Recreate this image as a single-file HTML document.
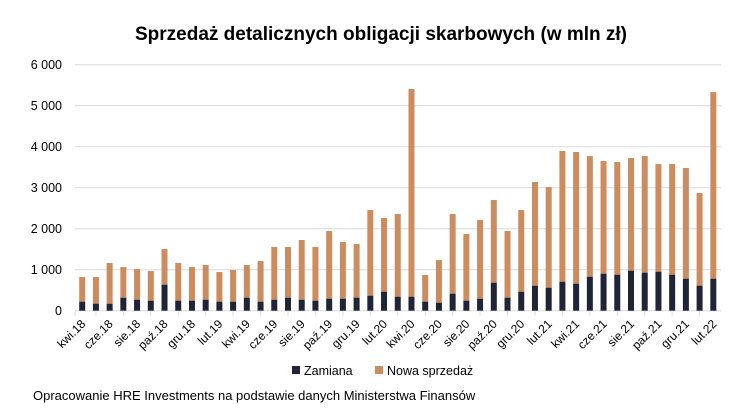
<!DOCTYPE html>
<html><head><meta charset="utf-8"><style>
body{margin:0;background:#fff;width:754px;height:414px;overflow:hidden;font-family:"Liberation Sans","DejaVu Sans",sans-serif}
</style></head><body>
<svg id="c" width="754" height="414" xmlns="http://www.w3.org/2000/svg" font-family="Liberation Sans, DejaVu Sans, sans-serif">
<text x="381" y="40" text-anchor="middle" font-size="19" font-weight="bold" fill="#000">Sprzedaż detalicznych obligacji skarbowych (w mln zł)</text>
<text x="33" y="400" font-size="13" fill="#000">Opracowanie HRE Investments na podstawie danych Ministerstwa Finansów</text>
<rect x="292" y="366" width="8" height="8" fill="#1f2537"/>
<text x="304" y="375" font-size="12.5" fill="#000">Zamiana</text>
<rect x="375" y="366" width="8" height="8" fill="#cc8c5d"/>
<text x="387" y="375" font-size="12.5" fill="#000">Nowa sprzedaż</text>
</svg>
<script>
var s=document.getElementById('c'),ns='http://www.w3.org/2000/svg';
function el(t,a,txt){var e=document.createElementNS(ns,t);for(var k in a)e.setAttribute(k,a[k]);if(txt)e.textContent=txt;s.appendChild(e);return e;}
var y0=310.7,k=0.041;
for(var i=0;i<=6;i++){var y=y0-i*1000*k;
 el('line',{x1:75,x2:721,y1:y,y2:y,stroke:'#d9d9d9','stroke-width':1});
 el('text',{x:62,y:y+4.5,'text-anchor':'end','font-size':12.5,fill:'#000'},i==0?'0':i+' 000');}
var tot=[821,821,1163,1065,1016,967,1504,1163,1065,1114,943,992,1114,1211,1553,1553,1724,1553,1943,1675,1626,2455,2260,2358,5407,870,1236,2358,1870,2211,2699,1943,2455,3138,3016,3894,3870,3772,3650,3626,3724,3772,3577,3577,3480,2870,5333];
var zam=[220,171,171,317,268,244,634,244,244,268,220,220,317,220,268,317,268,244,293,293,317,366,463,341,341,220,195,415,244,293,683,317,463,610,561,707,659,829,902,878,976,927,951,878,780,610,780];
var lab=['kwi.18','cze.18','sie.18','paź.18','gru.18','lut.19','kwi.19','cze.19','sie.19','paź.19','gru.19','lut.20','kwi.20','cze.20','sie.20','paź.20','gru.20','lut.21','kwi.21','cze.21','sie.21','paź.21','gru.21','lut.22'];
var x0=82.2,p=13.72,w=6;
for(var i=0;i<47;i++){var cx=x0+i*p;
 el('rect',{x:cx-w/2,y:y0-tot[i]*k,width:w,height:(tot[i]-zam[i])*k,fill:'#cc8c5d'});
 el('rect',{x:cx-w/2,y:y0-zam[i]*k,width:w,height:zam[i]*k,fill:'#1f2537'});
 if(i%2==0){var t=el('text',{x:cx+4,y:y0+14,'text-anchor':'end','font-size':12,fill:'#000',transform:'rotate(-45 '+(cx+4)+' '+(y0+14)+')'},lab[i/2]);}
 if(i%2==1){el('line',{x1:cx,x2:cx,y1:y0,y2:y0+5,stroke:'#d9d9d9'});}
}
el('line',{x1:75,x2:75,y1:y0,y2:y0+5,stroke:'#d9d9d9'});
</script>
</body></html>
